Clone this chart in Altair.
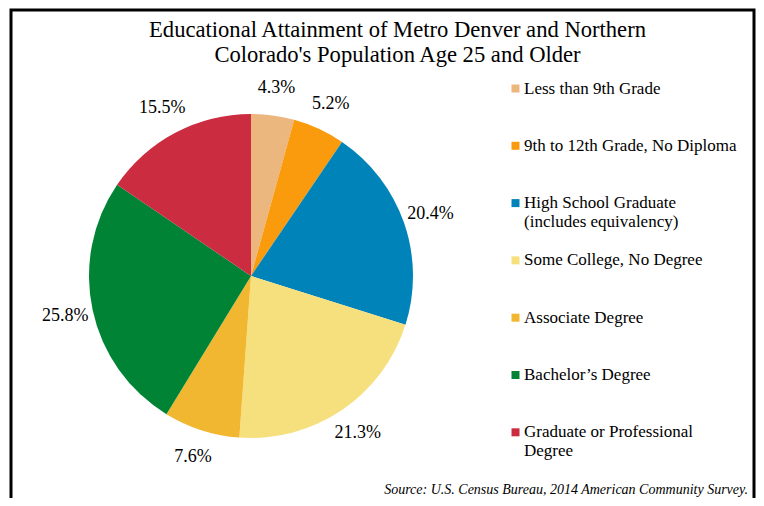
import altair as alt
import pandas as pd

categories = [
    "Less than 9th Grade",
    "9th to 12th Grade, No Diploma",
    "High School Graduate (includes equivalency)",
    "Some College, No Degree",
    "Associate Degree",
    "Bachelor’s Degree",
    "Graduate or Professional Degree",
]
values = [4.3, 5.2, 20.4, 21.3, 7.6, 25.8, 15.5]
colors = ["#EBB77F", "#F99B0C", "#0083B9", "#F6DF7D", "#F2B731", "#008334", "#CB2C40"]
line_breaks = {
    "High School Graduate (includes equivalency)": ["High School Graduate", "(includes equivalency)"],
    "Graduate or Professional Degree": ["Graduate or Professional", "Degree"],
}
title_lines = [
    "Educational Attainment of Metro Denver and Northern",
    "Colorado's Population Age 25 and Older",
]
source_text = "Source: U.S. Census Bureau, 2014 American Community Survey."

df = pd.DataFrame({
    "category": categories,
    "value": values,
    "order": list(range(len(categories))),
    "label": [f"{v}%" for v in values],
})

label_expr = ""
for k, v in line_breaks.items():
    label_expr += f"datum.label == '{k}' ? ['{v[0]}', '{v[1]}'] : "
label_expr += "datum.label"

FONT = "Liberation Serif"
CX, CY, R = 240, 266, 162

base = alt.Chart(df).encode(
    theta=alt.Theta("value:Q", stack=True),
    order=alt.Order("order:Q"),
)

arcs = base.mark_arc(outerRadius=R).encode(
    color=alt.Color(
        "category:N",
        sort=categories,
        scale=alt.Scale(domain=categories, range=colors),
        legend=alt.Legend(
            title=None,
            orient="none",
            legendX=496,
            legendY=70,
            symbolType="square",
            symbolSize=64,
            symbolStrokeWidth=0,
            labelFont=FONT,
            labelFontSize=17,
            labelColor="black",
            labelLimit=0,
            labelOffset=0,
            rowPadding=20.3,
            gridAlign="all",
            labelExpr=label_expr,
        ),
    ),
    x=alt.value(CX),
    y=alt.value(CY),
)

labels = base.mark_text(radius=190, font=FONT, fontSize=18, color="black").encode(
    text=alt.Text("label:N"),
    detail="category:N",
    x=alt.value(CX),
    y=alt.value(CY),
)

src = alt.Chart(pd.DataFrame({"t": [source_text]})).mark_text(
    align="right", baseline="middle", font=FONT, fontStyle="italic", fontSize=14, color="black"
).encode(text="t:N", x=alt.value(737), y=alt.value(480))

chart = alt.layer(arcs, labels, src).properties(
    width=743,
    height=492,
    autosize=alt.AutoSizeParams(type="none"),
    padding={"left": 3, "top": 2, "right": 2, "bottom": -4},
    title=alt.Title(
        title_lines,
        font=FONT,
        fontSize=22.6,
        fontWeight="normal",
        color="black",
        anchor="middle",
        baseline="top",
        lineHeight=25,
        offset=0,
        dy=57,
        dx=15,
    ),
).configure_view(stroke="black", strokeWidth=3)

chart.save("out.html", embed_options={"renderer": "svg", "actions": False})
